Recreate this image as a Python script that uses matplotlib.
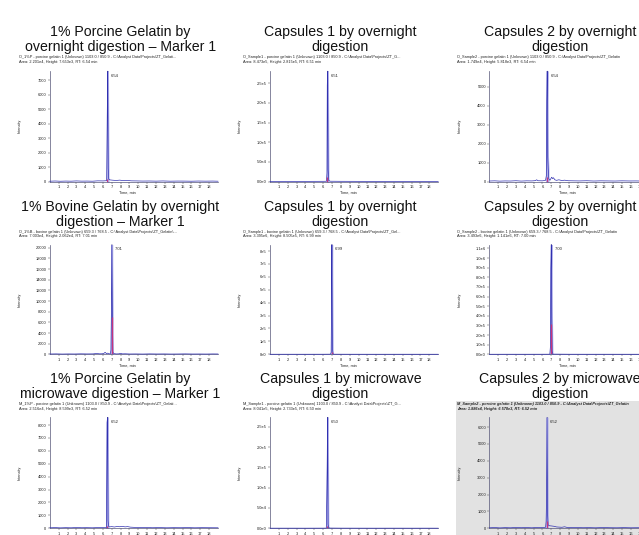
import numpy as np
import matplotlib
matplotlib.use("Agg")
import matplotlib.pyplot as plt
from matplotlib.patches import Rectangle

plt.rcParams['font.family'] = ['Liberation Sans', 'DejaVu Sans']

W, H = 639, 535

# ---- panel texts -------------------------------------------------------
TITLES = [
    ("1% Porcine Gelatin by", "overnight digestion \u2013 Marker 1"),
    ("Capsules 1 by overnight", "digestion"),
    ("Capsules 2 by overnight", "digestion"),
    ("1% Bovine Gelatin by overnight", "digestion \u2013 Marker 1"),
    ("Capsules 1 by overnight", "digestion"),
    ("Capsules 2 by overnight", "digestion"),
    ("1% Porcine Gelatin by", "microwave digestion \u2013 Marker 1"),
    ("Capsules 1 by microwave", "digestion"),
    ("Capsules 2 by microwave", "digestion"),
]

SOURCES = [
    "O_1%P - porcine gelatin 1 (Unknown) 1103.0 / 850.9 - C:\\Analyst Data\\Projects\\ZT_Gelati...",
    "O_Sample1 - porcine gelatin 1 (Unknown) 1103.0 / 850.9 - C:\\Analyst Data\\Projects\\ZT_G...",
    "O_Sample2 - porcine gelatin 1 (Unknown) 1103.0 / 850.9 - C:\\Analyst Data\\Projects\\ZT_Gelatin",
    "O_1%B - bovine gelatin 1 (Unknown) 659.3 / 768.5 - C:\\Analyst Data\\Projects\\ZT_Gelatin\\...",
    "O_Sample1 - bovine gelatin 1 (Unknown) 659.3 / 768.5 - C:\\Analyst Data\\Projects\\ZT_Gel...",
    "O_Sample2 - bovine gelatin 1 (Unknown) 659.3 / 768.5 - C:\\Analyst Data\\Projects\\ZT_Gelatin",
    "M_1%P - porcine gelatin 1 (Unknown) 1103.0 / 850.9 - C:\\Analyst Data\\Projects\\ZT_Gelati...",
    "M_Sample1 - porcine gelatin 1 (Unknown) 1103.0 / 850.9 - C:\\Analyst Data\\Projects\\ZT_G...",
    "M_Sample2 - porcine gelatin 1 (Unknown) 1103.0 / 850.9 - C:\\Analyst Data\\Projects\\ZT_Gelatin",
]

PEAK_AREA = ["2.201e4", "8.473e5", "1.749e4", "7.003e4", "3.395e6",
             "3.493e6", "2.516e4", "8.041e5", "1.886e4"]
PEAK_HEIGHT = [7653, 2.815e5, 5818, 20620, 8.505e5, 1.141e6, 8599, 2.733e5, 6578]
PEAK_RT = [6.54, 6.51, 6.54, 7.01, 6.99, 7.00, 6.52, 6.50, 6.52]
# intensity reached by the integrated (shaded) part of each peak
AREA_SHADE = [150, 1.2e4, 250, 7000, 2.0e4, 3.2e5, 200, 6000, 420]

Y_TICKS = [
    [0, 1000, 2000, 3000, 4000, 5000, 6000, 7000],
    [0, 5e4, 1e5, 1.5e5, 2e5, 2.5e5],
    [0, 1000, 2000, 3000, 4000, 5000],
    [0, 2000, 4000, 6000, 8000, 10000, 12000, 14000, 16000, 18000, 20000],
    [0, 1e5, 2e5, 3e5, 4e5, 5e5, 6e5, 7e5, 8e5],
    [0, 1e5, 2e5, 3e5, 4e5, 5e5, 6e5, 7e5, 8e5, 9e5, 1e6, 1.1e6],
    [0, 1000, 2000, 3000, 4000, 5000, 6000, 7000, 8000],
    [0, 5e4, 1e5, 1.5e5, 2e5, 2.5e5],
    [0, 1000, 2000, 3000, 4000, 5000, 6000],
]
Y_TICK_LABELS = [
    ["0", "1000", "2000", "3000", "4000", "5000", "6000", "7000"],
    ["0.0e0", "5.0e4", "1.0e5", "1.5e5", "2.0e5", "2.5e5"],
    ["0", "1000", "2000", "3000", "4000", "5000"],
    ["0", "2000", "4000", "6000", "8000", "10000", "12000", "14000",
     "16000", "18000", "20000"],
    ["0e0", "1e5", "2e5", "3e5", "4e5", "5e5", "6e5", "7e5", "8e5"],
    ["0.0e0", "1.0e5", "2.0e5", "3.0e5", "4.0e5", "5.0e5", "6.0e5",
     "7.0e5", "8.0e5", "9.0e5", "1.0e6", "1.1e6"],
    ["0", "1000", "2000", "3000", "4000", "5000", "6000", "7000", "8000"],
    ["0.0e0", "5.0e4", "1.0e5", "1.5e5", "2.0e5", "2.5e5"],
    ["0", "1000", "2000", "3000", "4000", "5000", "6000"],
]
X_TICKS = list(range(1, 19))

# ---- chromatogram traces (time in min, intensity in cps) ----------------
P1_TIME = [0.0, 0.6, 1.2, 1.8, 2.4, 3.0, 3.6, 4.2, 4.8, 5.4, 6.0, 6.3, 6.42, 6.49,
           6.60, 6.66, 6.8, 7.1, 7.5, 7.9, 8.3, 8.7, 9.2, 9.8, 10.5, 11.2, 12.0,
           12.8, 13.6, 14.4, 15.2, 16.0, 16.8, 17.6, 18.4, 19.0]
P1_INT = [20, 35, 18, 30, 22, 40, 25, 30, 20, 45, 40, 50, 60, 4600,
          900, 160, 110, 90, 70, 95, 60, 80, 45, 40, 30, 35, 25,
          38, 22, 30, 28, 20, 32, 24, 30, 20]

P2_TIME = [0.0, 2.0, 4.0, 6.0, 6.38, 6.44, 6.47, 6.57, 6.64, 6.8, 8.0, 10.0,
           12.0, 14.0, 16.0, 18.0, 19.0]
P2_INT = [300, 400, 350, 500, 600, 2.2e4, 2.45e5, 3.0e4, 2500, 700, 500, 400,
          350, 400, 300, 350, 300]

P3_TIME = [0.0, 0.6, 1.2, 1.8, 2.4, 3.0, 3.6, 4.2, 4.8, 5.2, 5.35, 5.5, 6.0, 6.35,
           6.44, 6.49, 6.60, 6.65, 6.72, 6.85, 7.05, 7.15, 7.25, 7.4, 7.6, 7.85,
           8.2, 8.5, 8.9, 9.5, 10.2, 11.0, 11.8, 12.6, 13.4, 14.2, 15.0, 15.8,
           16.6, 17.4, 18.2, 19.0]
P3_INT = [25, 35, 20, 30, 25, 40, 22, 35, 30, 45, 90, 40, 35, 60,
          300, 4300, 1300, 700, 150, 60, 230, 150, 200, 90, 60, 90,
          50, 70, 40, 35, 30, 40, 25, 35, 30, 25, 35, 28,
          30, 22, 30, 25]

P4_TIME = [0.0, 0.7, 1.4, 2.1, 2.8, 3.5, 4.2, 4.9, 5.3, 5.6, 5.9, 6.1, 6.25, 6.4,
           6.55, 6.7, 6.84, 6.91, 6.96, 7.07, 7.13, 7.22, 7.5, 7.8, 8.0, 8.2, 8.5,
           9.0, 9.7, 10.5, 11.3, 12.1, 12.9, 13.7, 14.5, 15.3, 16.1, 16.9, 17.7,
           18.4, 19.0]
P4_INT = [60, 80, 50, 70, 60, 90, 70, 80, 160, 90, 100, 150, 380, 120,
          220, 90, 100, 800, 8500, 7000, 400, 150, 70, 90, 180, 80, 100,
          60, 70, 50, 80, 60, 70, 50, 60, 80, 55, 60, 50,
          70, 60]

P5_TIME = [0.0, 2.0, 4.0, 6.0, 6.83, 6.91, 6.95, 7.05, 7.12, 7.22, 9.0, 11.0,
           13.0, 15.0, 17.0, 19.0]
P5_INT = [400, 500, 450, 600, 1000, 1.5e4, 4.2e5, 5.0e4, 3000, 800, 500, 450,
          400, 500, 450, 400]

P6_TIME = [0.0, 2.0, 4.0, 6.0, 6.84, 6.91, 6.95, 7.05, 7.10, 7.18, 9.0, 11.0,
           13.0, 15.0, 17.0, 19.0]
P6_INT = [500, 700, 600, 800, 1000, 9.0e4, 8.9e5, 3.8e5, 3.2e4, 2000, 800, 600,
          700, 600, 500, 600]

P7_TIME = [0.0, 0.6, 1.2, 1.8, 2.4, 3.0, 3.6, 4.2, 4.8, 5.4, 6.0, 6.3, 6.40, 6.47,
           6.58, 6.64, 6.75, 7.0, 7.3, 7.6, 7.9, 8.2, 8.5, 8.8, 9.1, 9.6, 10.2,
           10.9, 11.6, 12.4, 13.2, 14.0, 14.8, 15.6, 16.4, 17.2, 18.0, 19.0]
P7_INT = [40, 55, 35, 50, 40, 60, 45, 50, 40, 55, 50, 60, 50, 8200,
          600, 150, 110, 130, 100, 140, 120, 150, 110, 130, 90, 70, 55,
          60, 45, 55, 40, 50, 45, 55, 40, 50, 45, 40]

P8_TIME = [0.0, 2.0, 4.0, 6.0, 6.36, 6.42, 6.46, 6.56, 6.62, 6.8, 8.0, 10.0,
           12.0, 14.0, 16.0, 18.0, 19.0]
P8_INT = [300, 350, 300, 400, 500, 8.0e4, 1.52e5, 1.0e4, 1500, 600, 400, 350,
          300, 350, 300, 350, 300]

P9_TIME = [0.0, 0.6, 1.2, 1.8, 2.4, 3.0, 3.6, 4.2, 4.8, 5.4, 6.0, 6.36, 6.42,
           6.47, 6.58, 6.64, 6.8, 7.0, 7.3, 7.6, 7.9, 8.2, 8.5, 8.8, 9.3, 9.9,
           10.6, 11.3, 12.0, 12.8, 13.6, 14.4, 15.2, 16.0, 16.8, 17.6, 18.4, 19.0]
P9_INT = [30, 45, 25, 40, 30, 50, 35, 45, 30, 50, 45, 60, 400,
          2000, 900, 200, 150, 140, 120, 80, 70, 60, 90, 50, 40, 45,
          35, 40, 30, 45, 35, 30, 40, 30, 35, 30, 40, 30]

TRACE_TIMES = [P1_TIME, P2_TIME, P3_TIME, P4_TIME, P5_TIME, P6_TIME,
               P7_TIME, P8_TIME, P9_TIME]
TRACE_INTS = [P1_INT, P2_INT, P3_INT, P4_INT, P5_INT, P6_INT,
              P7_INT, P8_INT, P9_INT]

# ---- layout (pixels) ----------------------------------------------------
COL_LEFT = [49.8, 270.0, 489.3]
AX_W = 168.2
ROW_TOP = [71.0, 244.5, 417.3]
ROW_BOT = [181.5, 354.3, 528.3]
TITLE_Y = [(32.0, 47.0), (207.0, 222.0), (378.5, 394.3)]
HEAD_Y = [(57.0, 61.6), (231.7, 236.2), (404.3, 408.6)]
HEAD_X = [19.0, 243.0, 457.0]

LINE_BLUE = '#3030b0'
FILL_LAV = '#b0b0ea'
AREA_SHADE_COLOR = '#c8347c'
TEXT = '#222222'
PANEL_GRAY = '#e2e2e2'

fig = plt.figure(figsize=(W / 100, H / 100), dpi=100)
fig.patch.set_facecolor('white')


def fx(x):
    return x / W


def fy(y):
    return 1 - y / H


# grey backdrop of the selected (last) chromatogram window
backdrop = Rectangle((fx(456), fy(540)), fx(200), fy(401) - fy(540),
                     transform=fig.transFigure, facecolor=PANEL_GRAY,
                     edgecolor='none', zorder=-10)
fig.add_artist(backdrop)

for i in range(9):
    r, c = divmod(i, 3)
    left, top, bot = COL_LEFT[c], ROW_TOP[r], ROW_BOT[r]
    ax = fig.add_axes([fx(left), fy(bot), AX_W / W, (bot - top) / H])
    ax.set_zorder(1)
    ax.set_facecolor('none')

    rt, hgt = PEAK_RT[i], PEAK_HEIGHT[i]
    t = np.array(TRACE_TIMES[i] + [rt])
    y = np.array(TRACE_INTS[i] + [hgt])
    order = np.argsort(t)
    t, y = t[order], y[order]

    ax.set_xlim(0, 19)
    ax.set_ylim(0, hgt)

    near = np.abs(t - rt) <= 0.12
    ax.fill_between(t[near], 0, y[near], facecolor=FILL_LAV,
                    edgecolor=FILL_LAV, lw=1.1, zorder=2)
    ax.plot(t, y, color=LINE_BLUE, lw=0.5, zorder=3, clip_on=False,
            solid_joinstyle='miter')
    ax.vlines(rt - 0.03, 0, AREA_SHADE[i], color=AREA_SHADE_COLOR, lw=0.9,
              zorder=4)

    # retention time label with leader
    ax.annotate(f"{rt:.2f}", xy=(rt, hgt), xytext=(rt + 0.35, hgt * 0.955),
                fontsize=3.0, color=TEXT, va='center', ha='left',
                arrowprops=dict(arrowstyle='-', lw=0.3, color='#555555',
                                shrinkA=0, shrinkB=0),
                annotation_clip=False)

    for side in ('top', 'right'):
        ax.spines[side].set_visible(False)
    for side in ('left', 'bottom'):
        ax.spines[side].set_linewidth(0.5)
        ax.spines[side].set_color('#555577')
    ax.set_xticks(X_TICKS)
    ax.set_xticklabels([str(v) for v in X_TICKS])
    ax.set_yticks(Y_TICKS[i])
    ax.set_yticklabels(Y_TICK_LABELS[i])
    ax.tick_params(axis='both', labelsize=2.9, length=1.4, width=0.35,
                   pad=1.0, colors='#555555', labelcolor=TEXT)

    # axis captions
    fig.text(fx(left - 30), fy((top + bot) / 2), "Intensity", rotation=90,
             fontsize=2.8, color=TEXT, ha='center', va='center')
    fig.text(fx(left + 78), fy(bot + 11), "Time, min", fontsize=2.8,
             color=TEXT, ha='center', va='center')

    # panel title (two lines)
    l1, l2 = TITLES[i]
    cx = left + 70.5
    fig.text(fx(cx), fy(TITLE_Y[r][0]), l1, fontsize=10.2, color='#111111',
             ha='center', va='center')
    fig.text(fx(cx), fy(TITLE_Y[r][1]), l2, fontsize=10.2, color='#111111',
             ha='center', va='center')

    # trace header lines
    hx = HEAD_X[c]
    style = dict(fontsize=2.75, color=TEXT, ha='left', va='center')
    if i == 8:
        style.update(fontweight='bold', fontstyle='italic')
    fig.text(fx(hx), fy(HEAD_Y[r][0]), SOURCES[i], **style)
    fig.text(fx(hx), fy(HEAD_Y[r][1]),
             f"Area: {PEAK_AREA[i]}, Height: {hgt:.3e}".replace('e+0', 'e')
             + f", RT: {rt:.2f} min", **style)

fig.savefig("out.png", dpi=100, facecolor='white')
